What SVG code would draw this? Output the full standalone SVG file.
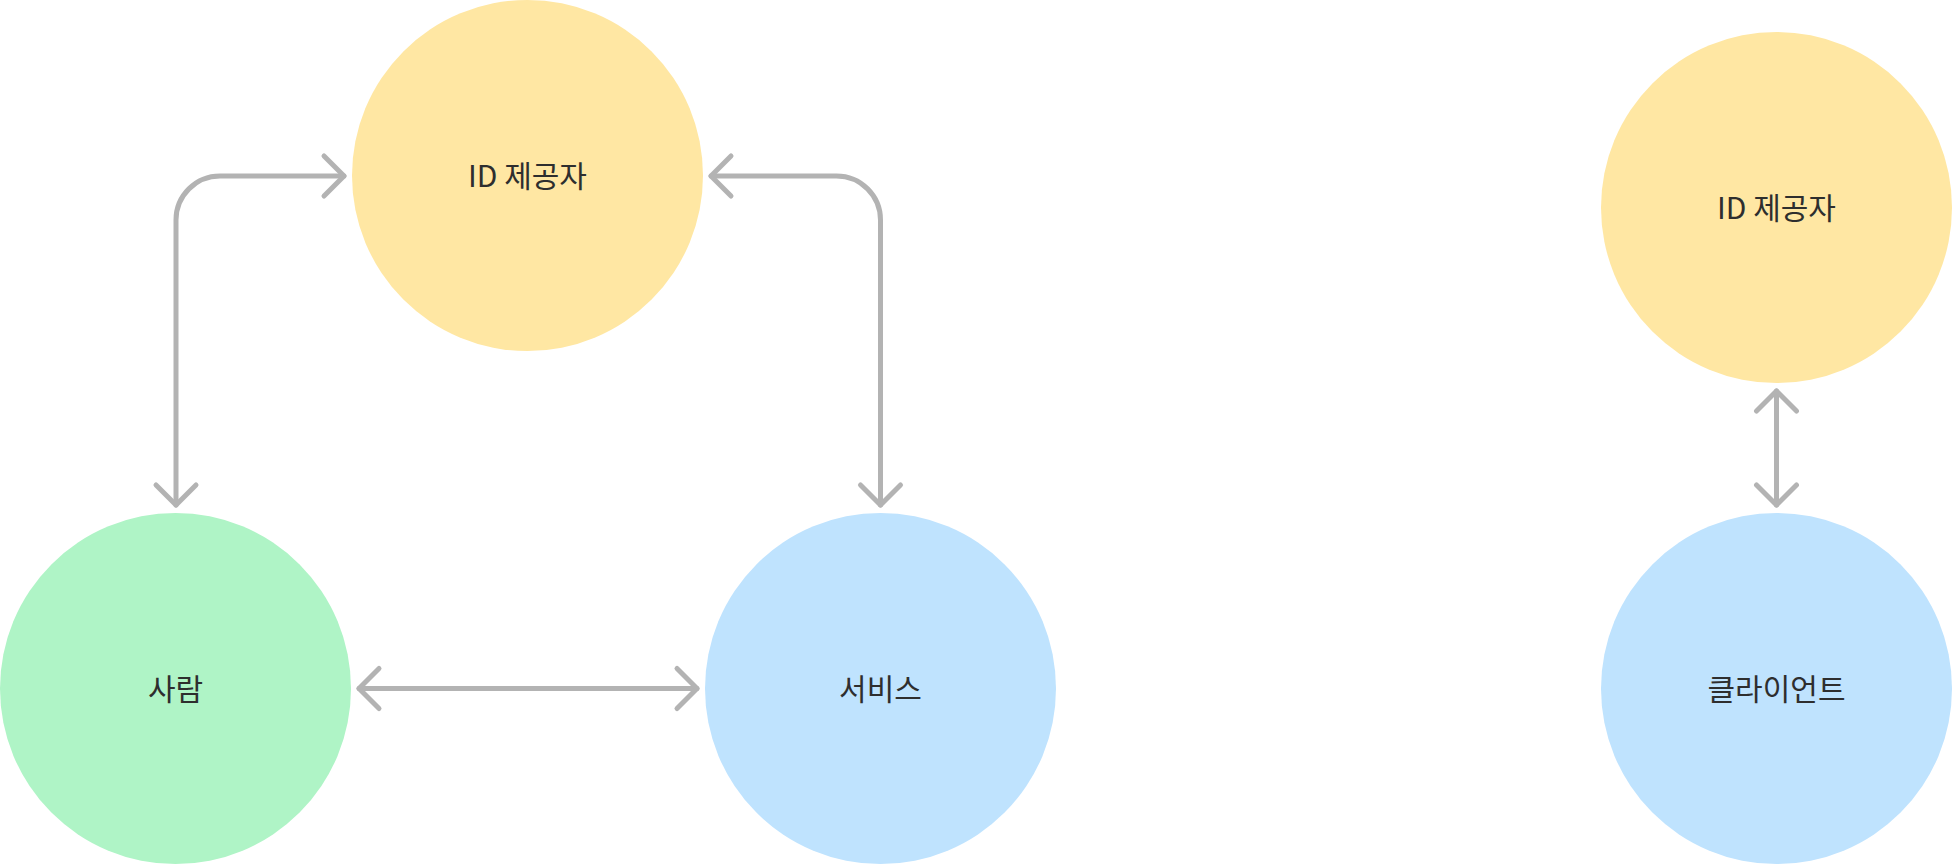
<svg xmlns="http://www.w3.org/2000/svg" width="1952" height="864" viewBox="0 0 1952 864">
<style>
.lbl{font-family:"Noto Sans CJK KR","Noto Sans",sans-serif;font-size:30px;fill:#2e2e2e;text-anchor:middle}
.conn{fill:none;stroke:#b3b3b3;stroke-width:5;stroke-linecap:round;stroke-linejoin:round}
.yellow{fill:#ffe7a3}
.green{fill:#aff4c6}
.blue{fill:#bfe3fe}
</style>
<defs>
<marker id="arr" markerUnits="userSpaceOnUse" markerWidth="50" markerHeight="50" refX="0" refY="0" viewBox="-25 -25 50 50" orient="auto-start-reverse" overflow="visible">
<path d="M-20,-20 L0,0 L-20,20" fill="none" stroke="#b3b3b3" stroke-width="5" stroke-linecap="round" stroke-linejoin="round"/>
</marker>
</defs>
<rect width="1952" height="864" fill="#ffffff"/>
<g id="connectors">
<path class="conn" d="M176,505 V220 A44,44 0 0 1 220,176 H344" marker-start="url(#arr)" marker-end="url(#arr)"/>
<path class="conn" d="M711,176 H836.5 A44,44 0 0 1 880.5,220 V505" marker-start="url(#arr)" marker-end="url(#arr)"/>
<path class="conn" d="M359,688.5 H697" marker-start="url(#arr)" marker-end="url(#arr)"/>
<path class="conn" d="M1776.5,391 V505" marker-start="url(#arr)" marker-end="url(#arr)"/>
</g>
<g id="idp-left">
<circle class="yellow" cx="527.5" cy="175.5" r="175.5"/>
<text class="lbl" x="527.5" y="186.5">ID 제공자</text>
</g>
<g id="person">
<circle class="green" cx="175.5" cy="688.5" r="175.5"/>
<text class="lbl" x="175.5" y="699.5">사람</text>
</g>
<g id="service">
<circle class="blue" cx="880.5" cy="688.5" r="175.5"/>
<text class="lbl" x="880.5" y="699.5">서비스</text>
</g>
<g id="idp-right">
<circle class="yellow" cx="1776.5" cy="207.5" r="175.5"/>
<text class="lbl" x="1776.5" y="218.5">ID 제공자</text>
</g>
<g id="client">
<circle class="blue" cx="1776.5" cy="688.5" r="175.5"/>
<text class="lbl" x="1776.5" y="699.5">클라이언트</text>
</g>
</svg>
